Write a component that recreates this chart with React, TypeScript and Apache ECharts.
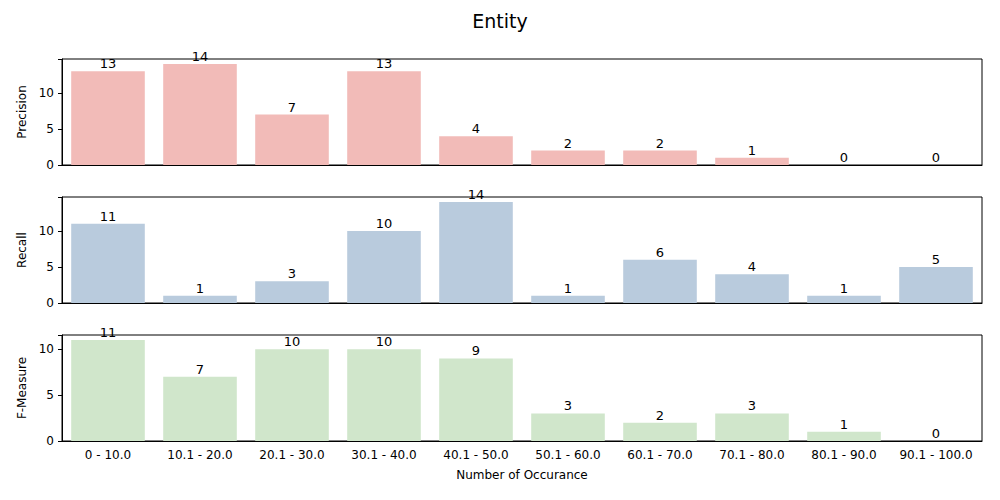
import React, { useEffect, useRef } from 'react';
import * as echarts from 'echarts';

const categories = ['0 - 10.0', '10.1 - 20.0', '20.1 - 30.0', '30.1 - 40.0', '40.1 - 50.0', '50.1 - 60.0', '60.1 - 70.0', '70.1 - 80.0', '80.1 - 90.0', '90.1 - 100.0'];
const precision = [13, 14, 7, 13, 4, 2, 2, 1, 0, 0];
const recall = [11, 1, 3, 10, 14, 1, 6, 4, 1, 5];
const fMeasure = [11, 7, 10, 10, 9, 3, 2, 3, 1, 0];
const yTicks = [0, 5, 10];

const panels = [
  { name: 'Precision', data: precision, color: '#f2bbb8', top: 59, max: 14.7 },
  { name: 'Recall', data: recall, color: '#b9cbdd', top: 197, max: 14.7 },
  { name: 'F-Measure', data: fMeasure, color: '#d0e6cb', top: 335, max: 11.55 },
];

const font = 'DejaVu Sans';

export default function App() {
  const ref = useRef<HTMLDivElement>(null);

  useEffect(() => {
    if (!ref.current) return;
    const chart = echarts.init(ref.current, undefined, { renderer: 'svg' });
    chart.setOption({
      animation: false,
      textStyle: { fontFamily: font },
      title: {
        text: 'Entity', left: 'center', top: 6,
        textStyle: { fontFamily: font, fontSize: 19, fontWeight: 'normal', color: '#000' },
      },
      grid: panels.map(p => ({
        left: 62, width: 920, top: p.top, height: 106,
        show: true, borderColor: '#000', borderWidth: 1, backgroundColor: 'transparent',
      })),
      xAxis: panels.map((p, i) => ({
        type: 'category', gridIndex: i, data: categories,
        axisLine: { lineStyle: { color: '#000' } },
        axisTick: { alignWithLabel: true, length: 4, lineStyle: { color: '#000' } },
        axisLabel: { show: i === 2, color: '#000', fontSize: 12, margin: 8, interval: 0 },
        name: i === 2 ? 'Number of Occurance' : '',
        nameLocation: 'middle', nameGap: 28,
        nameTextStyle: { color: '#000', fontSize: 12 },
      })),
      yAxis: panels.map((p, i) => ({
        type: 'value', gridIndex: i, min: 0, max: p.max, interval: 5,
        name: p.name, nameLocation: 'middle', nameGap: 34,
        nameTextStyle: { color: '#000', fontSize: 12 },
        axisLine: { show: true, lineStyle: { color: '#000' } },
        axisTick: { show: true, length: 4, lineStyle: { color: '#000' } },
        axisLabel: {
          color: '#000', fontSize: 12,
          formatter: (v: number) => (yTicks.includes(v) ? String(v) : ''),
        },
        splitLine: { show: false },
      })),
      series: panels.map((p, i) => ({
        type: 'bar', xAxisIndex: i, yAxisIndex: i, data: p.data,
        barCategoryGap: '20%',
        itemStyle: { color: p.color },
        label: { show: true, position: 'top', distance: 1, color: '#000', fontSize: 13 },
      })),
    });
    return () => chart.dispose();
  }, []);

  return <div ref={ref} style={{ position: 'absolute', left: 0, top: 0, width: 1000, height: 500 }} />;
}
